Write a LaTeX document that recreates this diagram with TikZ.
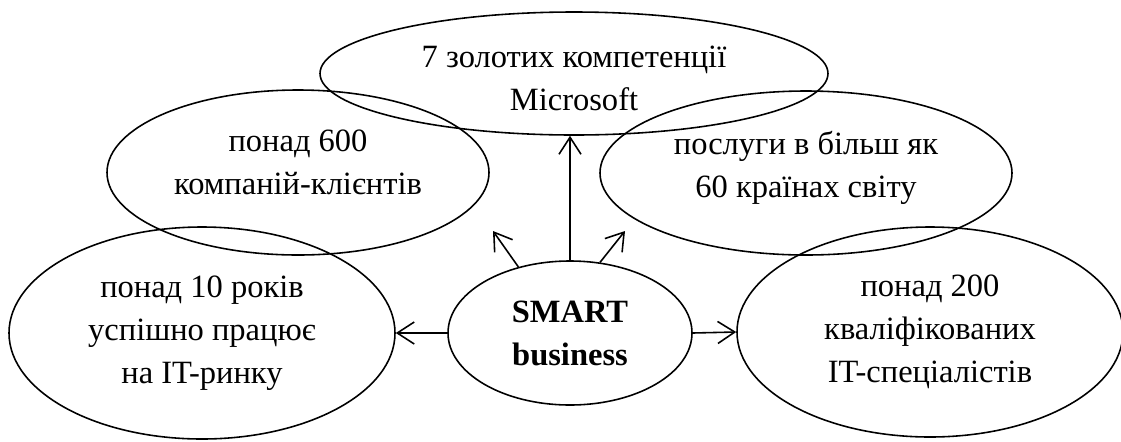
\documentclass[tikz,border=0pt]{standalone}
\usepackage{fontspec}
\setmainfont{Liberation Serif}
\usepackage{tikz}
\usetikzlibrary{
    arrows.meta,
    shapes.geometric
}
\tikzset{
    bubble/.style={
        draw,
        ellipse,
        inner sep=0pt,
        align=center,
        line width=0.9pt,
        font=\fontsize{18.5}{24.4}\selectfont
    }
}
\tikzset{
    hub/.style={
        bubble,
        font=\fontsize{18.5}{24.4}\selectfont\bfseries
    }
}
\tikzset{
    link/.style={
        draw=black,
        line width=0.9pt,
        -{Straight Barb[length=3.4mm,width=4.4mm]}
    }
}
% text block moved up or down inside its ellipse
\newcommand{\lifted}[2]{\raisebox{#1}[\height][\depth]{\begin{tabular}{@{}c@{}}#2\end{tabular}}}

\begin{document}
\begin{tikzpicture}

\useasboundingbox (0,0) rectangle (224.2mm,-88.2mm);

% ------------------------------------------------------------
% Facts around the company
% ------------------------------------------------------------

\node[bubble, minimum width=101.6mm, minimum height=24.6mm] (gold) at (114.8mm,-14.7mm)
    {\lifted{-1.3mm}{7 золотих компетенції\\Microsoft}};
\node[bubble, minimum width=76.4mm, minimum height=33mm] (clients) at (59.6mm,-34.5mm)
    {\lifted{1.6mm}{понад 600\\компаній-клієнтів}};
\node[bubble, minimum width=82.4mm, minimum height=32.8mm] (countries) at (161.2mm,-34.6mm)
    {\lifted{1.2mm}{послуги в більш як\\60 країнах світу}};
\node[bubble, minimum width=77.2mm, minimum height=42.4mm] (years) at (40.4mm,-66.6mm)
    {понад 10 років\\успішно працює\\на IT-ринку};
\node[bubble, minimum width=77.2mm, minimum height=42mm] (staff) at (186mm,-66.4mm)
    {понад 200\\кваліфікованих\\IT-спеціалістів};

% ------------------------------------------------------------
% Centre
% ------------------------------------------------------------

\node[hub, minimum width=48.8mm, minimum height=28.8mm] (smart) at (114mm,-66.6mm)
    {SMART\\business};

\coordinate (tipclients) at (98.6mm,-46.2mm);
\coordinate (tipcountries) at (125mm,-46.2mm);

\draw[link] (smart.north) -- (smart.north |- gold.south);
\draw[link] (smart.128) -- (tipclients);
\draw[link] (smart.67) -- (tipcountries);
\draw[link] (smart.west) -- (years.east);
\draw[link] (smart.east) -- (staff.west);

\end{tikzpicture}
\end{document}
